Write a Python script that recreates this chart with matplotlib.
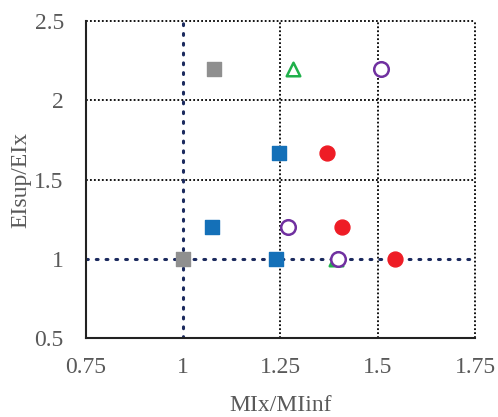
import matplotlib.pyplot as plt

plt.rcParams['font.family'] = ['Liberation Serif', 'DejaVu Serif']

# data
gray_x = [1.0, 1.08]
gray_y = [1.0, 2.2]
blue_x = [1.245, 1.075, 1.238]
blue_y = [1.67, 1.2, 1.0]
red_x = [1.37, 1.408, 1.545]
red_y = [1.67, 1.2, 1.0]
green_x = [1.282, 1.392]
green_y = [2.2, 1.0]
purple_x = [1.508, 1.27, 1.398]
purple_y = [2.2, 1.2, 1.0]

xticks = [0.75, 1, 1.25, 1.5, 1.75]
xticklabels = ['0.75', '1', '1.25', '1.5', '1.75']
yticks = [0.5, 1, 1.5, 2, 2.5]
yticklabels = ['0.5', '1', '1.5', '2', '2.5']

txt = '#595959'

fig = plt.figure(figsize=(4.98, 4.17), dpi=100)
ax = fig.add_axes([0.1727, 0.1894, 0.7811, 0.7602])

ax.set_xlim(0.75, 1.75)
ax.set_ylim(0.5, 2.5)

# dotted grid, including the outer edges
for x in xticks[2:]:
    ax.axvline(x, color='black', lw=1.3, ls=(0, (1, 1.2)), zorder=1, clip_on=False)
for y in yticks[2:]:
    ax.axhline(y, color='black', lw=1.3, ls=(0, (1, 1.2)), zorder=1, clip_on=False)

# navy reference lines at 1
ax.axvline(1, color='#1b2a5e', lw=2.2, ls=(0, (0.6, 2.6)), dash_capstyle='round', zorder=2)
ax.axhline(1, color='#1b2a5e', lw=2.2, ls=(0, (0.6, 2.6)), dash_capstyle='round', zorder=2)

ax.scatter(gray_x, gray_y, marker='s', s=105, color='#8f8f8f', zorder=3)
ax.scatter(blue_x, blue_y, marker='s', s=105, color='#1470b8', zorder=3)
ax.scatter(red_x, red_y, marker='o', s=115, color='#ee1c25', zorder=3)
ax.scatter(green_x, green_y, marker='^', s=95, facecolor='white', edgecolor='#1fb04a',
           linewidth=1.8, zorder=3)
ax.scatter(purple_x, purple_y, marker='o', s=110, facecolor='white', edgecolor='#7030a0',
           linewidth=1.8, zorder=4)

for s in ['top', 'right']:
    ax.spines[s].set_visible(False)
for s in ['left', 'bottom']:
    ax.spines[s].set_linewidth(1.5)
    ax.spines[s].set_color('#222222')

ax.set_xticks(xticks)
ax.set_xticklabels(xticklabels)
ax.set_yticks(yticks)
ax.set_yticklabels(yticklabels)
ax.tick_params(length=0, labelsize=17, labelcolor=txt)
ax.tick_params(axis='x', pad=14)
ax.tick_params(axis='y', pad=16)

ax.set_xlabel('MIx/MIinf', fontsize=17, color=txt, labelpad=12)
ax.set_ylabel('EIsup/EIx', fontsize=17, color=txt, labelpad=2)

fig.savefig('out.png', dpi=100)
